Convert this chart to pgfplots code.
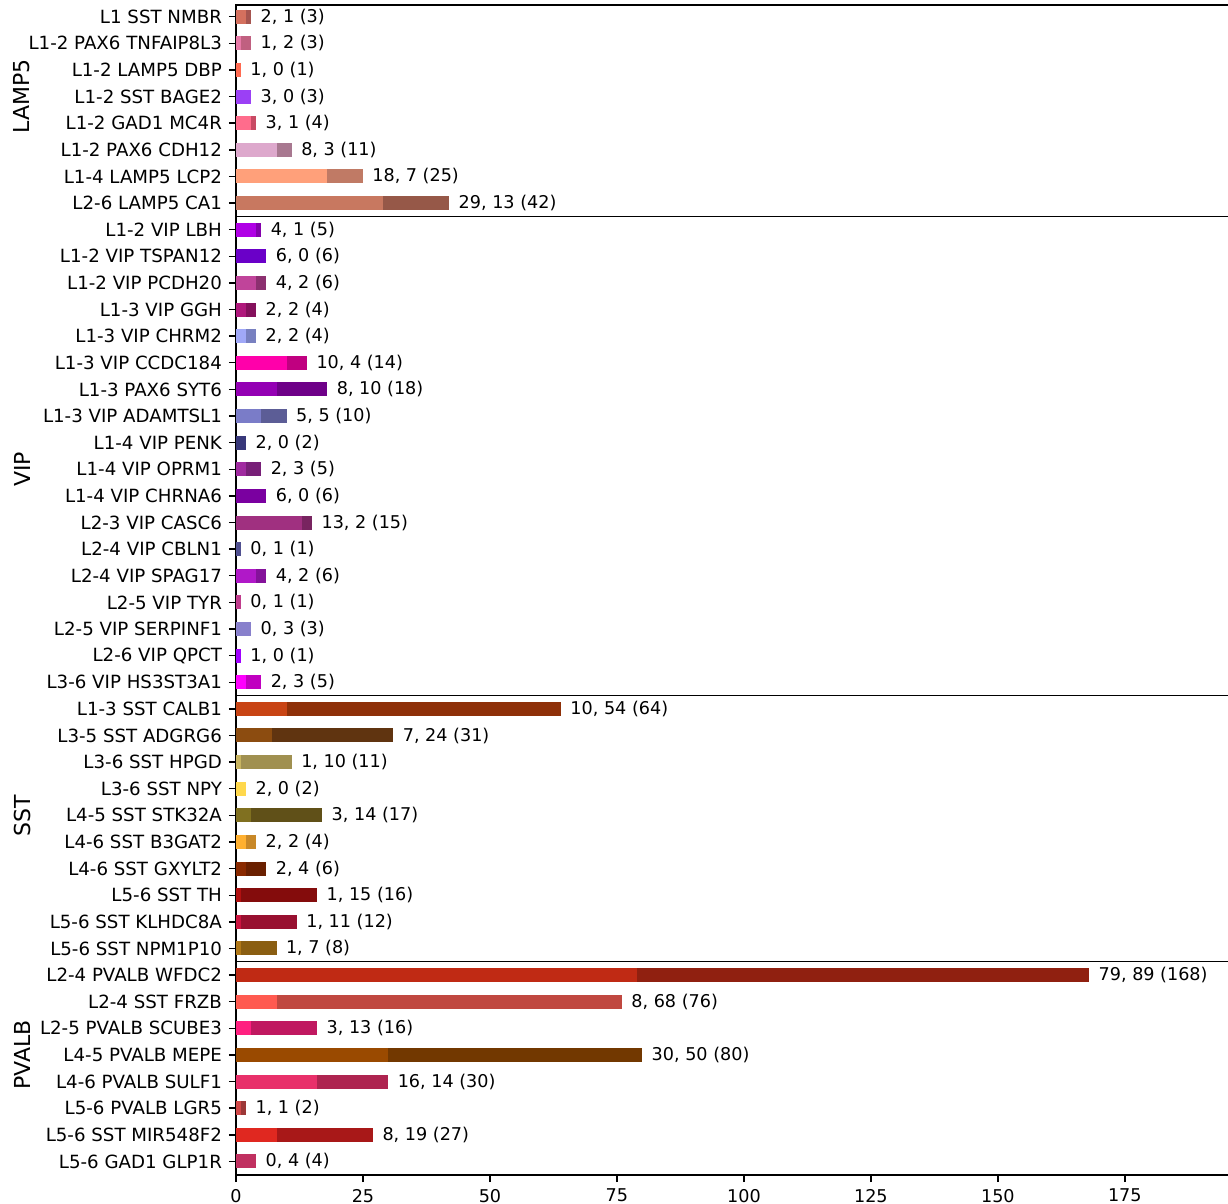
\documentclass[border=0pt]{standalone}
\usepackage{pgfplots}
\pgfplotsset{compat=1.18}
\usepackage{fontspec}
\setmainfont{DejaVu Sans}
\newcommand\lab{\fontsize{8.8}{10}\selectfont}
\newcommand\ylab{\fontsize{9.1}{10}\selectfont}
\newcommand\grp{\fontsize{11}{13}\selectfont}
% colours: a = first (lighter) segment, b = second (darker) segment
\definecolor{a0}{HTML}{D4705E}\definecolor{b0}{HTML}{A65550}
\definecolor{a1}{HTML}{E87AA8}\definecolor{b1}{HTML}{C06080}
\definecolor{a2}{HTML}{FF6A50}\definecolor{b2}{HTML}{C05040}
\definecolor{a3}{HTML}{9B40F5}\definecolor{b3}{HTML}{7430B8}
\definecolor{a4}{HTML}{FF6C8C}\definecolor{b4}{HTML}{C84A64}
\definecolor{a5}{HTML}{DDA8CC}\definecolor{b5}{HTML}{A87890}
\definecolor{a6}{HTML}{FFA07A}\definecolor{b6}{HTML}{C07A65}
\definecolor{a7}{HTML}{C87860}\definecolor{b7}{HTML}{965848}
\definecolor{a8}{HTML}{B000E6}\definecolor{b8}{HTML}{8400AC}
\definecolor{a9}{HTML}{6A00C8}\definecolor{b9}{HTML}{500096}
\definecolor{a10}{HTML}{C0449A}\definecolor{b10}{HTML}{8C3070}
\definecolor{a11}{HTML}{B0187C}\definecolor{b11}{HTML}{84105C}
\definecolor{a12}{HTML}{A0A8F8}\definecolor{b12}{HTML}{7880C0}
\definecolor{a13}{HTML}{FF00AA}\definecolor{b13}{HTML}{C00080}
\definecolor{a14}{HTML}{9400B4}\definecolor{b14}{HTML}{6E0088}
\definecolor{a15}{HTML}{7A7CC8}\definecolor{b15}{HTML}{5C5D96}
\definecolor{a16}{HTML}{38387A}\definecolor{b16}{HTML}{2A2A5C}
\definecolor{a17}{HTML}{A02AA0}\definecolor{b17}{HTML}{781F78}
\definecolor{a18}{HTML}{7A00A0}\definecolor{b18}{HTML}{5C0078}
\definecolor{a19}{HTML}{A03080}\definecolor{b19}{HTML}{782460}
\definecolor{a20}{HTML}{6A6AC0}\definecolor{b20}{HTML}{505090}
\definecolor{a21}{HTML}{B018C8}\definecolor{b21}{HTML}{84129A}
\definecolor{a22}{HTML}{FF50BA}\definecolor{b22}{HTML}{C03C8C}
\definecolor{a23}{HTML}{B4AAFF}\definecolor{b23}{HTML}{8880CC}
\definecolor{a24}{HTML}{A000FF}\definecolor{b24}{HTML}{7800C0}
\definecolor{a25}{HTML}{FF00FF}\definecolor{b25}{HTML}{C000C0}
\definecolor{a26}{HTML}{C84414}\definecolor{b26}{HTML}{8E3008}
\definecolor{a27}{HTML}{8C4C10}\definecolor{b27}{HTML}{603410}
\definecolor{a28}{HTML}{C8B460}\definecolor{b28}{HTML}{A09050}
\definecolor{a29}{HTML}{FFD84C}\definecolor{b29}{HTML}{C0A238}
\definecolor{a30}{HTML}{807020}\definecolor{b30}{HTML}{605018}
\definecolor{a31}{HTML}{FFB030}\definecolor{b31}{HTML}{C88828}
\definecolor{a32}{HTML}{8A2A00}\definecolor{b32}{HTML}{6A2000}
\definecolor{a33}{HTML}{B01010}\definecolor{b33}{HTML}{840C0C}
\definecolor{a34}{HTML}{CC1440}\definecolor{b34}{HTML}{981030}
\definecolor{a35}{HTML}{B07818}\definecolor{b35}{HTML}{8A5E12}
\definecolor{a36}{HTML}{C02A14}\definecolor{b36}{HTML}{902010}
\definecolor{a37}{HTML}{FF5A50}\definecolor{b37}{HTML}{C04840}
\definecolor{a38}{HTML}{FF2080}\definecolor{b38}{HTML}{C01860}
\definecolor{a39}{HTML}{9A4A00}\definecolor{b39}{HTML}{723800}
\definecolor{a40}{HTML}{E8306A}\definecolor{b40}{HTML}{AE2450}
\definecolor{a41}{HTML}{D04848}\definecolor{b41}{HTML}{9C3838}
\definecolor{a42}{HTML}{E02820}\definecolor{b42}{HTML}{A81818}
\definecolor{a43}{HTML}{FF4080}\definecolor{b43}{HTML}{C03060}
% one bar: #1 row, #2 first value, #3 total, #4 label
\newcommand{\brow}[4]{%
\addplot[fill=b#1, nodes near coords={#4}] coordinates {(#3,#1)};
\addplot[fill=a#1] coordinates {(#2,#1)};}
\begin{document}
\begin{tikzpicture}
\useasboundingbox (0,0) rectangle (614pt,602pt);
\begin{axis}[
  at={(118pt,14.5pt)}, anchor=south west,
  scale only axis, width=497.5pt, height=585pt,
  xmin=0, xmax=195.9, ymin=-0.44, ymax=43.51, y dir=reverse,
  xbar, bar width=7pt, bar shift=0pt,
  every axis plot/.append style={draw=none},
  ytick={0,...,43},
  yticklabels={L1 SST NMBR, L1-2 PAX6 TNFAIP8L3, L1-2 LAMP5 DBP, L1-2 SST BAGE2, L1-2 GAD1 MC4R, L1-2 PAX6 CDH12, L1-4 LAMP5 LCP2, L2-6 LAMP5 CA1,
    L1-2 VIP LBH, L1-2 VIP TSPAN12, L1-2 VIP PCDH20, L1-3 VIP GGH, L1-3 VIP CHRM2, L1-3 VIP CCDC184, L1-3 PAX6 SYT6, L1-3 VIP ADAMTSL1, L1-4 VIP PENK, L1-4 VIP OPRM1, L1-4 VIP CHRNA6, L2-3 VIP CASC6, L2-4 VIP CBLN1, L2-4 VIP SPAG17, L2-5 VIP TYR, L2-5 VIP SERPINF1, L2-6 VIP QPCT, L3-6 VIP HS3ST3A1,
    L1-3 SST CALB1, L3-5 SST ADGRG6, L3-6 SST HPGD, L3-6 SST NPY, L4-5 SST STK32A, L4-6 SST B3GAT2, L4-6 SST GXYLT2, L5-6 SST TH, L5-6 SST KLHDC8A, L5-6 SST NPM1P10,
    L2-4 PVALB WFDC2, L2-4 SST FRZB, L2-5 PVALB SCUBE3, L4-5 PVALB MEPE, L4-6 PVALB SULF1, L5-6 PVALB LGR5, L5-6 SST MIR548F2, L5-6 GAD1 GLP1R},
  xtick={0,25,50,75,100,125,150,175},
  tick align=outside, xtick pos=bottom, ytick pos=left,
  major tick length=3.5pt,
  every tick/.style={black, line width=0.7pt},
  axis line style={line width=0.7pt},
  tick label style={font=\lab, black},
  yticklabel style={font=\ylab},
  /pgf/number format/assume math mode=true,
  extra y ticks={7.5,25.5,35.5},
  extra y tick labels={},
  extra y tick style={grid=major, major tick length=0pt, major grid style={black, line width=0.7pt}},
  nodes near coords style={font=\lab, anchor=west, inner sep=0pt, xshift=4.5pt, black},
  clip=false,
]
\brow{0}{2}{3}{2, 1 (3)}
\brow{1}{1}{3}{1, 2 (3)}
\brow{2}{1}{1}{1, 0 (1)}
\brow{3}{3}{3}{3, 0 (3)}
\brow{4}{3}{4}{3, 1 (4)}
\brow{5}{8}{11}{8, 3 (11)}
\brow{6}{18}{25}{18, 7 (25)}
\brow{7}{29}{42}{29, 13 (42)}
\brow{8}{4}{5}{4, 1 (5)}
\brow{9}{6}{6}{6, 0 (6)}
\brow{10}{4}{6}{4, 2 (6)}
\brow{11}{2}{4}{2, 2 (4)}
\brow{12}{2}{4}{2, 2 (4)}
\brow{13}{10}{14}{10, 4 (14)}
\brow{14}{8}{18}{8, 10 (18)}
\brow{15}{5}{10}{5, 5 (10)}
\brow{16}{2}{2}{2, 0 (2)}
\brow{17}{2}{5}{2, 3 (5)}
\brow{18}{6}{6}{6, 0 (6)}
\brow{19}{13}{15}{13, 2 (15)}
\brow{20}{0}{1}{0, 1 (1)}
\brow{21}{4}{6}{4, 2 (6)}
\brow{22}{0}{1}{0, 1 (1)}
\brow{23}{0}{3}{0, 3 (3)}
\brow{24}{1}{1}{1, 0 (1)}
\brow{25}{2}{5}{2, 3 (5)}
\brow{26}{10}{64}{10, 54 (64)}
\brow{27}{7}{31}{7, 24 (31)}
\brow{28}{1}{11}{1, 10 (11)}
\brow{29}{2}{2}{2, 0 (2)}
\brow{30}{3}{17}{3, 14 (17)}
\brow{31}{2}{4}{2, 2 (4)}
\brow{32}{2}{6}{2, 4 (6)}
\brow{33}{1}{16}{1, 15 (16)}
\brow{34}{1}{12}{1, 11 (12)}
\brow{35}{1}{8}{1, 7 (8)}
\brow{36}{79}{168}{79, 89 (168)}
\brow{37}{8}{76}{8, 68 (76)}
\brow{38}{3}{16}{3, 13 (16)}
\brow{39}{30}{80}{30, 50 (80)}
\brow{40}{16}{30}{16, 14 (30)}
\brow{41}{1}{2}{1, 1 (2)}
\brow{42}{8}{27}{8, 19 (27)}
\brow{43}{0}{4}{0, 4 (4)}
\node[rotate=90, font=\grp] at ([xshift=-107pt]axis cs:0,3) {LAMP5};
\node[rotate=90, font=\grp] at ([xshift=-107pt]axis cs:0,17) {VIP};
\node[rotate=90, font=\grp] at ([xshift=-107pt]axis cs:0,30) {SST};
\node[rotate=90, font=\grp] at ([xshift=-107pt]axis cs:0,39) {PVALB};
\end{axis}
\end{tikzpicture}
\end{document}
